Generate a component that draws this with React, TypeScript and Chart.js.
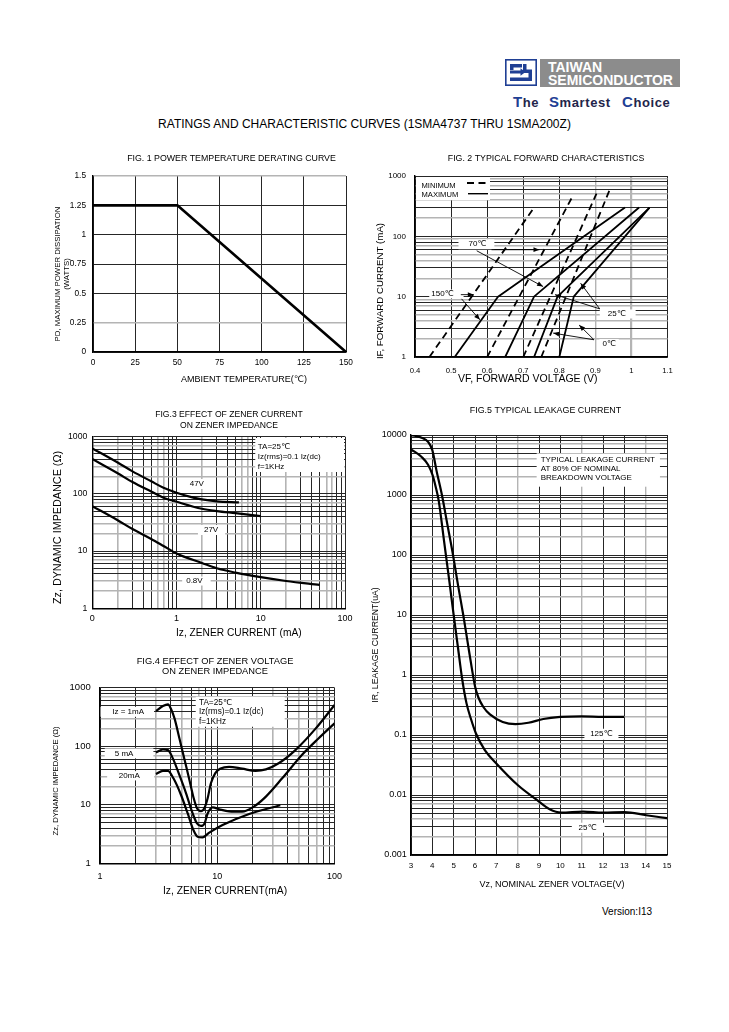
import React, { useEffect, useRef } from 'react';
import { Chart, registerables } from 'chart.js';

Chart.register(...registerables);

const FONT = '"Liberation Sans", Arial, Helvetica, "DejaVu Sans", sans-serif';
const DARK = '#262626';
const GRAY = '#b4b4b4';
const BLUE = '#1f3f94';

// ================= FIG.1 POWER TEMPERATURE DERATING =================
const fig1Temp = [0, 50, 150];
const fig1Power = [1.25, 1.25, 0];
const fig1XTicks = [0, 25, 50, 75, 100, 125, 150];
const fig1XLabels = ['0', '25', '50', '75', '100', '125', '150'];
const fig1YTicks = [0, 0.25, 0.5, 0.75, 1, 1.25, 1.5];
const fig1YLabels = ['0', '0.25', '0.5', '0.75', '1', '1.25', '1.5'];

// ================= FIG.2 TYPICAL FORWARD CHARACTERISTICS =================
const fig2XTicks = [0.4, 0.5, 0.6, 0.7, 0.8, 0.9, 1.0, 1.1];
const fig2XLabels = ['0.4', '0.5', '0.6', '0.7', '0.8', '0.9', '1', '1.1'];
const fig2YMajor = [1, 10, 100, 1000];
const fig2YLabels = ['1', '10', '100', '1000'];
const fig2Legend = ['MINIMUM', 'MAXIMUM'];
// minimum (dashed) curves: forward voltage (V) / forward current (mA)
const fwdMinA_V = [0.44, 0.73];
const fwdMinA_I = [1, 300];
const fwdMinB_V = [0.6, 0.835];
const fwdMinB_I = [1, 440];
const fwdMinC_V = [0.7, 0.903];
const fwdMinC_I = [1, 510];
const fwdMinD_V = [0.75, 0.94];
const fwdMinD_I = [1, 600];
// maximum (solid) curves
const fwdMaxA_V = [0.51, 0.63, 0.982];
const fwdMaxA_I = [1, 10, 300];
const fwdMaxB_V = [0.65, 0.73, 1.021];
const fwdMaxB_I = [1, 10, 300];
const fwdMaxC_V = [0.73, 0.795, 1.05];
const fwdMaxC_I = [1, 10, 300];
const fwdMaxD_V = [0.8, 0.84, 1.05];
const fwdMaxD_I = [1, 10, 300];

// ================= FIG.3 EFFECT OF ZENER CURRENT =================
const fig3XMajor = [0.1, 1, 10, 100];
const fig3XLabels = ['0', '1', '10', '100'];
const fig3YMajor = [1, 10, 100, 1000];
const fig3YLabels = ['1', '10', '100', '1000'];
const z47_I = [0.1, 0.2, 0.3, 0.5, 0.7, 1, 1.5, 2, 3, 5.5];
const z47_Z = [625, 353, 248, 166, 128, 105, 88, 80, 74, 71];
const z27_I = [0.1, 0.2, 0.3, 0.5, 0.7, 1, 2, 3, 5, 10];
const z27_Z = [407, 230, 161, 110, 86, 73, 55, 50, 46, 41];
const z08_I = [0.1, 0.2, 0.3, 0.5, 0.7, 1, 2, 3, 5, 10, 20, 50];
const z08_Z = [61, 34.7, 24.3, 16.3, 12.3, 9.1, 6.2, 5.0, 4.2, 3.5, 3.0, 2.56];

// ================= FIG.4 EFFECT OF ZENER VOLTAGE =================
const fig4XMajor = [1, 10, 100];
const fig4XLabels = ['1', '10', '100'];
const fig4YMajor = [1, 10, 100, 1000];
const fig4YLabels = ['1', '10', '100', '1000'];
const iz1_V = [3, 3.44, 3.8, 4.05, 4.32, 4.76, 5.25, 5.79, 6.3, 6.72, 7.26, 7.76, 8.28, 8.83, 9.6, 10.7, 12.6, 16.3, 21.2, 26, 33.4, 46.4, 68.4, 100];
const iz1_Z = [400, 486, 520, 426, 299, 136, 60, 26.5, 12.9, 8.7, 7.8, 8.7, 12.9, 23.3, 34.5, 41.8, 44.6, 41.4, 38.1, 40.3, 51.2, 86, 196, 506];
const iz5_V = [3, 3.44, 3.8, 4.18, 4.76, 5.42, 6.17, 6.72, 7.26, 7.8, 8.28, 9.14, 10.4, 12.6, 16.3, 20.5, 26, 35.8, 52.7, 73, 100];
const iz5_Z = [78, 88, 86, 62, 32, 15.7, 7.1, 4.8, 4.35, 4.8, 7.1, 9.05, 8.4, 7.7, 7.6, 9.3, 13.8, 28.3, 71, 136, 246];
const iz20_V = [3, 3.44, 3.8, 4.23, 4.91, 5.6, 6.26, 6.8, 7.5, 8.55, 11.1, 18.7, 34.5];
const iz20_Z = [33.5, 38, 38, 28.3, 14.7, 7.1, 3.7, 2.85, 2.78, 3.34, 4.5, 6.96, 9.8];

// ================= FIG.5 TYPICAL LEAKAGE CURRENT =================
const fig5XTicks = [3, 4, 5, 6, 7, 8, 9, 10, 11, 12, 13, 14, 15];
const fig5XLabels = ['3', '4', '5', '6', '7', '8', '9', '10', '11', '12', '13', '14', '15'];
const fig5YMajor = [0.001, 0.01, 0.1, 1, 10, 100, 1000, 10000];
const fig5YLabels = ['0.001', '0.01', '0.1', '1', '10', '100', '1000', '10000'];
const lk125_V = [3, 3.5, 3.8, 4, 4.2, 4.45, 4.7, 4.95, 5.2, 5.45, 5.65, 5.85, 6.0, 6.15, 6.4, 6.7, 7.3, 7.9, 8.5, 9.2, 10, 11, 12, 13];
const lk125_I = [10000, 9000, 7700, 5600, 2500, 1000, 330, 110, 32, 10, 3.6, 1.3, 0.65, 0.43, 0.29, 0.22, 0.165, 0.152, 0.16, 0.185, 0.2, 0.205, 0.2, 0.2];
const lk25_V = [3, 3.5, 3.8, 4.0, 4.15, 4.3, 4.55, 4.8, 5.0, 5.2, 5.4, 5.6, 5.8, 6.04, 6.46, 7.0, 8.0, 8.9, 9.5, 10.05, 11.07, 12, 13, 14.03, 15];
const lk25_I = [5770, 4300, 3200, 2200, 1400, 800, 170, 36, 10, 2.9, 0.85, 0.34, 0.19, 0.107, 0.056, 0.0336, 0.0147, 0.0083, 0.0058, 0.0051, 0.0053, 0.0051, 0.0052, 0.0046, 0.0041];

// ================= helpers =================
const pts = (xs: number[], ys: number[]) => xs.map((x, i) => ({ x, y: ys[i] }));
const near = (a: number, b: number) => Math.abs(a - b) <= Math.abs(b) * 1e-6 + 1e-9;
const labeler = (vals: number[], labels: string[]) => (v: number) => {
  const i = vals.findIndex((m) => near(v, m));
  return i >= 0 ? labels[i] : '';
};
function logTickValues(e0: number, e1: number): number[] {
  const out: number[] = [];
  for (let e = e0; e < e1; e++) for (let m = 1; m < 10; m++) out.push(Number((m * Math.pow(10, e)).toPrecision(6)));
  out.push(Math.pow(10, e1));
  return out;
}
function mantissa(v: number) {
  const e = Math.floor(Math.log10(v) + 1e-9);
  return Math.round(v / Math.pow(10, e));
}
const logGrid = (grays: number[]) => (v: number): [string, number] => {
  if (!(v > 0)) return [DARK, 1];
  return grays.includes(mantissa(v)) ? [GRAY, 1.6] : [DARK, 1];
};
const linGrid = (grays: number[], thick: number[] = []) => (v: number): [string, number] => {
  if (thick.some((g) => near(v, g))) return [GRAY, 2.2];
  return grays.some((g) => near(v, g)) ? [GRAY, 1.4] : [DARK, 1];
};

type AxisSpec = {
  type: 'linear' | 'logarithmic';
  min: number;
  max: number;
  ticks: number[];
  label: (v: number) => string;
  size: number;
  tickFont: number;
  tickPad: number;
  title: string | string[];
  titleFont: number;
  titlePad: number;
  titleCenter: number;
  grid: (v: number) => [string, number];
};

function buildAxis(s: AxisSpec, isX: boolean) {
  return {
    type: s.type,
    position: isX ? 'bottom' : 'left',
    min: s.min,
    max: s.max,
    bounds: 'data',
    afterBuildTicks: (sc: any) => {
      sc.ticks = s.ticks.map((v) => ({ value: v }));
    },
    afterFit: (sc: any) => {
      if (isX) sc.height = s.size;
      else sc.width = s.size;
    },
    ticks: {
      autoSkip: false,
      maxRotation: 0,
      minRotation: 0,
      padding: s.tickPad,
      color: '#000',
      font: { family: FONT, size: s.tickFont, lineHeight: 1.2 },
      callback: (v: any) => s.label(Number(v)),
    },
    grid: {
      drawTicks: false,
      tickLength: 0,
      color: (c: any) => s.grid(c.tick ? c.tick.value : NaN)[0],
      lineWidth: (c: any) => s.grid(c.tick ? c.tick.value : NaN)[1],
    },
    border: { display: true, color: '#000', width: 1.4 },
    title: {
      display: true,
      text: s.title,
      color: '#000',
      font: { family: FONT, size: s.titleFont, lineHeight: 1.2 },
      padding: isX ? { top: 0, bottom: s.titlePad } : { top: s.titlePad, bottom: 0 },
    },
  };
}

function patchTitle(sc: any, horizontal: boolean, target: number) {
  if (!sc || sc.__tp) return;
  sc.__tp = true;
  const orig = sc.drawTitle;
  sc.drawTitle = function () {
    const s = { l: this.left, r: this.right, t: this.top, b: this.bottom };
    if (horizontal) {
      const d = target - (this.left + this.right) / 2;
      this.left += d;
      this.right += d;
    } else {
      const d = target - (this.top + this.bottom) / 2;
      this.top += d;
      this.bottom += d;
    }
    orig.call(this);
    this.left = s.l;
    this.right = s.r;
    this.top = s.t;
    this.bottom = s.b;
  };
}

function titlePosPlugin(titleCenter: number, xs: AxisSpec, ys: AxisSpec) {
  return {
    id: 'titlePos',
    afterLayout(chart: any) {
      const tb = chart.titleBlock;
      if (tb) {
        const d = titleCenter - (tb.left + tb.right) / 2;
        tb.left += d;
        tb.right += d;
      }
      patchTitle(chart.scales.x, true, xs.titleCenter);
      patchTitle(chart.scales.y, false, ys.titleCenter);
    },
  };
}

type ChartSpec = {
  datasets: any[];
  title: string | string[];
  titleSize: number;
  titleLH: number;
  titlePad: [number, number];
  titleCenter: number;
  x: AxisSpec;
  y: AxisSpec;
  plugins?: any[];
};

function buildConfig(o: ChartSpec): any {
  return {
    type: 'line',
    data: { datasets: o.datasets },
    options: {
      responsive: false,
      maintainAspectRatio: false,
      animation: false,
      devicePixelRatio: 1,
      events: [],
      layout: { padding: { left: 0, top: 0, right: 14, bottom: 0 } },
      plugins: {
        legend: { display: false },
        tooltip: { enabled: false },
        title: {
          display: true,
          text: o.title,
          color: '#000',
          font: { family: FONT, size: o.titleSize, weight: 'normal', lineHeight: o.titleLH },
          padding: { top: o.titlePad[0], bottom: o.titlePad[1] },
        },
      },
      scales: { x: buildAxis(o.x, true), y: buildAxis(o.y, false) },
      elements: { point: { radius: 0 } },
    },
    plugins: [titlePosPlugin(o.titleCenter, o.x, o.y), ...(o.plugins || [])],
  };
}

const line = (data: any[], width: number, extra: any = {}) => ({
  data,
  borderColor: '#000',
  backgroundColor: '#000',
  borderWidth: width,
  pointRadius: 0,
  fill: false,
  tension: 0,
  borderCapStyle: 'butt',
  borderJoinStyle: 'round',
  ...extra,
});
const smooth = { cubicInterpolationMode: 'monotone' };

type Lbl = { text: string; x: number; y: number; padL: number; padR: number; h: number };
function drawLabels(chart: any, labels: Lbl[], size: number) {
  const { ctx, scales } = chart;
  ctx.save();
  ctx.font = `${size}px ${FONT}`;
  ctx.textAlign = 'center';
  ctx.textBaseline = 'middle';
  for (const l of labels) {
    const px = scales.x.getPixelForValue(l.x);
    const py = scales.y.getPixelForValue(l.y);
    const w = ctx.measureText(l.text).width;
    ctx.fillStyle = '#fff';
    ctx.fillRect(px - w / 2 - l.padL, py - l.h / 2, w + l.padL + l.padR, l.h);
    ctx.fillStyle = '#000';
    ctx.fillText(l.text, px, py);
  }
  ctx.restore();
}

type Note = { lines: string[]; x: number; top: number; w?: number; h: number; padX: number; firstY: number; gap: number; size: number };
function drawNote(chart: any, n: Note) {
  const { ctx, chartArea: a, scales } = chart;
  const left = scales.x.getPixelForValue(n.x);
  const right = n.w ? left + n.w : a.right - 1;
  ctx.save();
  ctx.fillStyle = '#fff';
  ctx.fillRect(left, a.top + n.top, right - left, n.h);
  ctx.fillStyle = '#000';
  ctx.font = `${n.size}px ${FONT}`;
  ctx.textAlign = 'left';
  ctx.textBaseline = 'middle';
  n.lines.forEach((s, i) => ctx.fillText(s, left + n.padX, a.top + n.top + n.firstY + i * n.gap));
  ctx.restore();
}

function drawArrow(ctx: any, x1: number, y1: number, x2: number, y2: number) {
  ctx.beginPath();
  ctx.moveTo(x1, y1);
  ctx.lineTo(x2, y2);
  ctx.stroke();
  const a = Math.atan2(y2 - y1, x2 - x1);
  const L = 6;
  const W = 2.4;
  ctx.beginPath();
  ctx.moveTo(x2, y2);
  ctx.lineTo(x2 - L * Math.cos(a) + W * Math.sin(a), y2 - L * Math.sin(a) - W * Math.cos(a));
  ctx.lineTo(x2 - L * Math.cos(a) - W * Math.sin(a), y2 - L * Math.sin(a) + W * Math.cos(a));
  ctx.closePath();
  ctx.fill();
}

// ---------- annotations ----------
const fig2Labels: Lbl[] = [
  { text: '70℃', x: 0.573, y: 74, padL: 10, padR: 8, h: 10 },
  { text: '150℃', x: 0.476, y: 11.1, padL: 2, padR: 10, h: 9 },
  { text: '25℃', x: 0.959, y: 5.16, padL: 8, padR: 10, h: 9 },
  { text: '0℃', x: 0.938, y: 1.64, padL: 3, padR: 3, h: 10 },
];
const fig2Arrows = [
  [0.612, 60, 0.745, 60],
  [0.571, 57.7, 0.755, 14.7],
  [0.527, 10.8, 0.563, 10.8],
  [0.529, 9.2, 0.58, 4.13],
  [0.912, 6.28, 0.788, 10.8],
  [0.912, 6.28, 0.859, 16.7],
  [0.896, 1.93, 0.783, 2.49],
  [0.896, 1.93, 0.855, 3.38],
];
const fig3Labels: Lbl[] = [
  { text: '47V', x: 1.74, y: 149, padL: 3, padR: 3, h: 10 },
  { text: '27V', x: 2.57, y: 23.4, padL: 6, padR: 7, h: 10 },
  { text: '0.8V', x: 1.63, y: 3.0, padL: 4, padR: 8, h: 9 },
];
const noteLines = ['TA=25℃', 'Iz(rms)=0.1 Iz(dc)', 'f=1KHz'];
const fig4Labels: Lbl[] = [
  { text: 'Iz = 1mA', x: 1.737, y: 388, padL: 11.7, padR: 10, h: 10 },
  { text: '5 mA', x: 1.604, y: 75.6, padL: 10, padR: 20, h: 10 },
  { text: '20mA', x: 1.778, y: 31.3, padL: 11.7, padR: 14.4, h: 9.3 },
];
const fig5Labels: Lbl[] = [
  { text: '125℃', x: 11.92, y: 0.103, padL: 5.7, padR: 6, h: 11 },
  { text: '25℃', x: 11.27, y: 0.00285, padL: 6.7, padR: 8.3, h: 10 },
];
const fig5Note = ['TYPICAL LEAKAGE CURRENT', 'AT 80% OF NOMINAL', 'BREAKDOWN VOLTAGE'];

const fig2Plugin = {
  id: 'fig2annot',
  beforeDatasetsDraw(chart: any) {
    const { ctx, chartArea: a } = chart;
    ctx.save();
    ctx.fillStyle = '#fff';
    ctx.fillRect(a.left + 1, a.top + 1, 74, 23);
    ctx.fillStyle = '#000';
    ctx.font = `7.6px ${FONT}`;
    ctx.textAlign = 'left';
    ctx.textBaseline = 'middle';
    ctx.fillText(fig2Legend[0], a.left + 6.5, a.top + 9.5);
    ctx.fillText(fig2Legend[1], a.left + 6.5, a.top + 19);
    ctx.strokeStyle = '#000';
    ctx.lineWidth = 1.8;
    ctx.setLineDash([7, 4.5]);
    ctx.beginPath();
    ctx.moveTo(a.left + 52, a.top + 7);
    ctx.lineTo(a.left + 73, a.top + 7);
    ctx.stroke();
    ctx.setLineDash([]);
    ctx.lineWidth = 1.4;
    ctx.beginPath();
    ctx.moveTo(a.left + 53, a.top + 17.7);
    ctx.lineTo(a.left + 73, a.top + 17.7);
    ctx.stroke();
    ctx.restore();
    drawLabels(chart, fig2Labels, 8);
  },
  afterDatasetsDraw(chart: any) {
    const { ctx, scales } = chart;
    ctx.save();
    ctx.strokeStyle = '#000';
    ctx.fillStyle = '#000';
    ctx.lineWidth = 0.9;
    for (const [x1, y1, x2, y2] of fig2Arrows) {
      drawArrow(ctx, scales.x.getPixelForValue(x1), scales.y.getPixelForValue(y1), scales.x.getPixelForValue(x2), scales.y.getPixelForValue(y2));
    }
    ctx.restore();
  },
};
const fig3Plugin = {
  id: 'fig3annot',
  beforeDatasetsDraw(chart: any) {
    drawNote(chart, { lines: noteLines, x: 8.6, top: 1.3, h: 34, padX: 2.5, firstY: 8.7, gap: 9.9, size: 8 });
    drawLabels(chart, fig3Labels, 8);
  },
};
const fig4Plugin = {
  id: 'fig4annot',
  beforeDatasetsDraw(chart: any) {
    drawNote(chart, { lines: noteLines, x: 6.55, top: 9, w: 89, h: 30, padX: 3.3, firstY: 6, gap: 9.5, size: 8.2 });
    drawLabels(chart, fig4Labels, 8);
  },
};
const fig5Plugin = {
  id: 'fig5annot',
  beforeDatasetsDraw(chart: any) {
    drawNote(chart, { lines: fig5Note, x: 8.89, top: 18.3, w: 123.3, h: 33.4, padX: 4, firstY: 6.7, gap: 8.85, size: 8 });
    drawLabels(chart, fig5Labels, 8);
  },
};

// ---------- chart configs ----------
const fig1Config = () =>
  buildConfig({
    datasets: [line(pts(fig1Temp, fig1Power), 2.6)],
    title: 'FIG. 1 POWER TEMPERATURE DERATING CURVE',
    titleSize: 8.8,
    titleLH: 1.2,
    titlePad: [3.72, 11.72],
    titleCenter: 181.5,
    x: {
      type: 'linear', min: 0, max: 150, ticks: fig1XTicks, label: labeler(fig1XTicks, fig1XLabels),
      size: 40, tickFont: 8.3, tickPad: 6.2, title: 'AMBIENT TEMPERATURE(℃)', titleFont: 9, titlePad: 6.6,
      titleCenter: 194, grid: linGrid([]),
    },
    y: {
      type: 'linear', min: 0, max: 1.5, ticks: fig1YTicks, label: labeler(fig1YTicks, fig1YLabels),
      size: 43, tickFont: 8.3, tickPad: 7, title: ['PD, MAXIMUM POWER DISSIPATION', '(WATTS)'], titleFont: 7.8,
      titlePad: 3.3, titleCenter: 124, grid: linGrid([0.25, 1.5]),
    },
  });

const fig2Config = () =>
  buildConfig({
    datasets: [
      line(pts(fwdMinA_V, fwdMinA_I), 1.8, { borderDash: [7, 4.5] }),
      line(pts(fwdMinB_V, fwdMinB_I), 1.8, { borderDash: [7, 4.5] }),
      line(pts(fwdMinC_V, fwdMinC_I), 1.8, { borderDash: [7, 4.5] }),
      line(pts(fwdMinD_V, fwdMinD_I), 1.8, { borderDash: [7, 4.5] }),
      line(pts(fwdMaxA_V, fwdMaxA_I), 1.8),
      line(pts(fwdMaxB_V, fwdMaxB_I), 1.8),
      line(pts(fwdMaxC_V, fwdMaxC_I), 1.8),
      line(pts(fwdMaxD_V, fwdMaxD_I), 1.8),
    ],
    title: 'FIG. 2 TYPICAL FORWARD CHARACTERISTICS',
    titleSize: 8.8,
    titleLH: 1.2,
    titlePad: [3.72, 11.72],
    titleCenter: 176,
    x: {
      type: 'linear', min: 0.4, max: 1.1, ticks: fig2XTicks, label: labeler(fig2XTicks, fig2XLabels),
      size: 35, tickFont: 7.7, tickPad: 9.1, title: 'VF, FORWARD VOLTAGE (V)', titleFont: 10.5, titlePad: 6.2,
      titleCenter: 157.7, grid: linGrid([0.9], [1.0]),
    },
    y: {
      type: 'logarithmic', min: 1, max: 1000, ticks: logTickValues(0, 3), label: labeler(fig2YMajor, fig2YLabels),
      size: 45, tickFont: 8, tickPad: 9, title: 'IF, FORWARD CURRENT (mA)', titleFont: 9.7, titlePad: 4.2,
      titleCenter: 141, grid: logGrid([2, 4, 5, 7, 9]),
    },
    plugins: [fig2Plugin],
  });

const fig3Config = () =>
  buildConfig({
    datasets: [
      line(pts(z47_I, z47_Z), 2.2, smooth),
      line(pts(z27_I, z27_Z), 2.2, smooth),
      line(pts(z08_I, z08_Z), 2.2, smooth),
    ],
    title: ['FIG.3 EFFECT OF ZENER CURRENT', 'ON ZENER IMPEDANCE'],
    titleSize: 8.6,
    titleLH: 1.25,
    titlePad: [4.6, 5.6],
    titleCenter: 179,
    x: {
      type: 'logarithmic', min: 0.1, max: 100, ticks: logTickValues(-1, 2), label: labeler(fig3XMajor, fig3XLabels),
      size: 36.7, tickFont: 9, tickPad: 4.6, title: 'Iz, ZENER CURRENT (mA)', titleFont: 10.2, titlePad: 5.6,
      titleCenter: 188.8, grid: logGrid([2, 6, 7]),
    },
    y: {
      type: 'logarithmic', min: 1, max: 1000, ticks: logTickValues(0, 3), label: labeler(fig3YMajor, fig3YLabels),
      size: 42.3, tickFont: 8.7, tickPad: 5, title: 'Zz, DYNAMIC IMPEDANCE (Ω)', titleFont: 10.8, titlePad: 1.8,
      titleCenter: 122.5, grid: logGrid([2, 3, 7]),
    },
    plugins: [fig3Plugin],
  });

const fig4Config = () =>
  buildConfig({
    datasets: [
      line(pts(iz1_V, iz1_Z), 2.2, smooth),
      line(pts(iz5_V, iz5_Z), 2.2, smooth),
      line(pts(iz20_V, iz20_Z), 2.2, smooth),
    ],
    title: ['FIG.4 EFFECT OF ZENER VOLTAGE', 'ON ZENER IMPEDANCE'],
    titleSize: 9.3,
    titleLH: 1.1,
    titlePad: [3.9, 11.37],
    titleCenter: 165,
    x: {
      type: 'logarithmic', min: 1, max: 100, ticks: logTickValues(0, 2), label: labeler(fig4XMajor, fig4XLabels),
      size: 38.7, tickFont: 9, tickPad: 8, title: 'Iz, ZENER CURRENT(mA)', titleFont: 10.3, titlePad: 4.8,
      titleCenter: 175, grid: logGrid([3, 5, 7]),
    },
    y: {
      type: 'logarithmic', min: 1, max: 1000, ticks: logTickValues(0, 3), label: labeler(fig4YMajor, fig4YLabels),
      size: 50, tickFont: 9.5, tickPad: 9.3, title: 'Zz, DYNAMIC IMPEDANCE (Ω)', titleFont: 7.7, titlePad: 1.4,
      titleCenter: 129, grid: logGrid([2, 3, 7]),
    },
    plugins: [fig4Plugin],
  });

const fig5Config = () =>
  buildConfig({
    datasets: [line(pts(lk125_V, lk125_I), 2.2, smooth), line(pts(lk25_V, lk25_I), 2.2, smooth)],
    title: 'FIG.5 TYPICAL LEAKAGE CURRENT',
    titleSize: 8.9,
    titleLH: 1.2,
    titlePad: [5.36, 18.96],
    titleCenter: 175.5,
    x: {
      type: 'linear', min: 3, max: 15, ticks: fig5XTicks, label: labeler(fig5XTicks, fig5XLabels),
      size: 45, tickFont: 8, tickPad: 6.2, title: 'Vz, NOMINAL ZENER VOLTAGE(V)', titleFont: 9, titlePad: 9.6,
      titleCenter: 182, grid: linGrid([8, 11, 14]),
    },
    y: {
      type: 'logarithmic', min: 0.001, max: 10000, ticks: logTickValues(-3, 4), label: labeler(fig5YMajor, fig5YLabels),
      size: 41, tickFont: 9, tickPad: 4.3, title: 'IR, LEAKAGE CURRENT(uA)', titleFont: 8.7, titlePad: 0.8,
      titleCenter: 245, grid: logGrid([2, 4, 7]),
    },
    plugins: [fig5Plugin],
  });

function ChartCanvas(props: { left: number; top: number; width: number; height: number; make: () => any }) {
  const ref = useRef<HTMLCanvasElement | null>(null);
  useEffect(() => {
    if (!ref.current) return;
    const chart = new Chart(ref.current, props.make());
    return () => chart.destroy();
  }, []);
  return (
    <canvas
      ref={ref}
      width={props.width}
      height={props.height}
      style={{ position: 'absolute', left: props.left, top: props.top, width: props.width, height: props.height }}
    />
  );
}

function Logo() {
  const txt: any = { position: 'absolute', color: '#fff', fontFamily: FONT, fontWeight: 'bold', fontSize: 14, lineHeight: '14px', whiteSpace: 'nowrap' };
  const cap: any = { color: BLUE, fontSize: 15 };
  const low: any = { color: '#23254a', fontSize: 13 };
  const row: any = { position: 'absolute', top: 94, fontFamily: FONT, fontWeight: 'bold', lineHeight: '15px', whiteSpace: 'nowrap', letterSpacing: 0.6 };
  return (
    <>
      <svg width={32} height={27} viewBox="0 0 32 27" style={{ position: 'absolute', left: 505, top: 59 }}>
        <rect x={0.8} y={0.8} width={30.4} height={25.4} fill="#fff" stroke={BLUE} strokeWidth={1.6} />
        <path d="M5 5 H17 V8.5 H8.5 V11 H5 Z" fill={BLUE} />
        <path d="M5 11.5 H15.5 V9.3 L20.5 13 L15.5 16.7 V14.5 H5 Z" fill={BLUE} />
        <path d="M18 5 H21.5 V10.5 H27 V22 H5 V18.5 H23.5 V14 H18 Z" fill={BLUE} />
      </svg>
      <div style={{ position: 'absolute', left: 540, top: 59, width: 140, height: 28, background: '#8c8c8c' }}>
        <div style={{ ...txt, left: 8, top: 0.5 }}>TAIWAN</div>
        <div style={{ ...txt, left: 8, top: 14 }}>SEMICONDUCTOR</div>
      </div>
      <div style={{ ...row, left: 513 }}>
        <span style={cap}>T</span>
        <span style={low}>he</span>
      </div>
      <div style={{ ...row, left: 549 }}>
        <span style={cap}>S</span>
        <span style={low}>martest</span>
      </div>
      <div style={{ ...row, left: 622 }}>
        <span style={cap}>C</span>
        <span style={low}>hoice</span>
      </div>
    </>
  );
}

export default function App() {
  return (
    <div
      style={{
        position: 'absolute',
        left: 0,
        top: 0,
        width: 729,
        height: 1032,
        background: '#fff',
        overflow: 'hidden',
        fontFamily: FONT,
        color: '#000',
      }}
    >
      <Logo />
      <div
        style={{ position: 'absolute', left: 0, top: 117, width: 729, textAlign: 'center', fontSize: 12, lineHeight: '14px', whiteSpace: 'nowrap' }}
      >
        RATINGS AND CHARACTERISTIC CURVES (1SMA4737 THRU 1SMA200Z)
      </div>
      <ChartCanvas left={50} top={150} width={310} height={242} make={fig1Config} />
      <ChartCanvas left={370} top={150} width={312} height={242} make={fig2Config} />
      <ChartCanvas left={50} top={405} width={309} height={240} make={fig3Config} />
      <ChartCanvas left={50} top={652} width={300} height={250} make={fig4Config} />
      <ChartCanvas left={370} top={400} width={311} height={500} make={fig5Config} />
      <div style={{ position: 'absolute', left: 602, top: 906, fontSize: 10, lineHeight: '12px', whiteSpace: 'nowrap' }}>
        Version:I13
      </div>
    </div>
  );
}
